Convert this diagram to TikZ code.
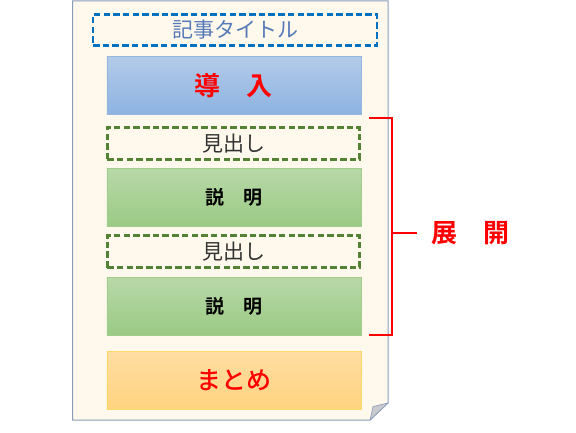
\documentclass[tikz,border=0pt]{standalone}
\usepackage{fontspec}
\setmainfont{Noto Sans CJK JP}
\newfontfamily\jpbold{Noto Sans CJK JP Bold}
\newfontfamily\jpmed{Noto Sans CJK JP Medium}
\definecolor{pagefill}{HTML}{FEF9EC}
\definecolor{pageline}{HTML}{8A9CBE}
\definecolor{titleblue}{HTML}{0070C0}
\definecolor{titletext}{HTML}{5679B8}
\definecolor{greenline}{HTML}{548235}
\definecolor{bluetop}{HTML}{B3CBE8}
\definecolor{bluebot}{HTML}{8DB3E2}
\definecolor{blueline}{HTML}{95B6DF}
\definecolor{greentop}{HTML}{B8D8A8}
\definecolor{greenbot}{HTML}{9ACA84}
\definecolor{greenedge}{HTML}{A0CC8C}
\definecolor{orangetop}{HTML}{FFDDA3}
\definecolor{orangebot}{HTML}{FFD47F}
\definecolor{orangeline}{HTML}{FFD966}
\definecolor{foldgray}{HTML}{C8CACD}
\tikzset{
  px/.style={x=1pt,y=-1pt},
  dashbox/.style={rectangle,line width=2.6pt,dash pattern=on 6.5pt off 3.2pt},
  titlebox/.style={dashbox,draw=titleblue,minimum width=284pt,minimum height=31pt,font=\fontsize{21}{21}\selectfont,text=titletext},
  headbox/.style={dashbox,draw=greenline,minimum width=252.5pt,minimum height=32pt,font=\fontsize{21}{21}\selectfont,text=black!80},
  solidbox/.style={rectangle,line width=0.6pt,minimum width=254pt,minimum height=58pt},
  introbox/.style={solidbox,draw=blueline,top color=bluetop,bottom color=bluebot,font=\jpbold\fontsize{26}{26}\selectfont,text=red},
  explbox/.style={solidbox,draw=greenedge,top color=greentop,bottom color=greenbot,font=\jpbold\fontsize{19}{19}\selectfont,text=black},
  sumbox/.style={solidbox,draw=orangeline,top color=orangetop,bottom color=orangebot,font=\jpmed\fontsize{25}{25}\selectfont,text=red},
  bracket/.style={draw=red,line width=2pt},
}
\begin{document}
\begin{tikzpicture}[px]
\useasboundingbox (0,0) rectangle (576,432);
% page
\filldraw[fill=pagefill,draw=pageline,line width=1pt]
  (72.5,0.8) -- (388,0.8) -- (388,403) -- (370,420) -- (72.5,420) -- cycle;
\filldraw[fill=foldgray,draw=pageline,line width=0.6pt]
  (370,420) -- (373,406.5) -- (388,403) -- cycle;
% boxes
\node[titlebox] (title) at (235,30) {記事タイトル};
\node[introbox] (intro) at (233.8,85.2) {導　入};
\node[headbox] (h1) at (233.5,143.3) {見出し};
\node[explbox] (e1) at (233.8,197.5) {説　明};
\node[headbox] (h2) at (233.5,251.5) {見出し};
\node[explbox] (e2) at (233.8,306.7) {説　明};
\node[sumbox] (sum) at (233.8,380.2) {まとめ};
% bracket
\coordinate (bt) at (369.3,117.5);
\coordinate (bb) at (369.3,335.3);
\coordinate (bm) at (392.3,232.7);
\coordinate (bmr) at (416.7,232.7);
\draw[bracket] (bt) -- (392.3,117.5) -- (392.3,335.3) -- (bb);
\draw[bracket] (bm) -- (bmr);
\node[font=\jpbold\fontsize{26}{26}\selectfont,text=red] (tenkai) at (470,233) {展　開};
\end{tikzpicture}
\end{document}
